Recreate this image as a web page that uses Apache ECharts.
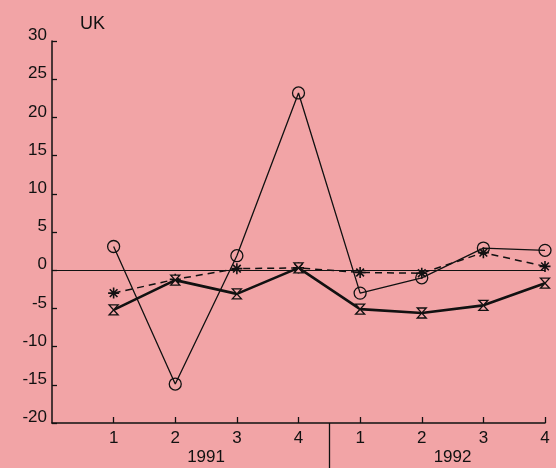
<!DOCTYPE html>
<html>
<head>
<meta charset="utf-8">
<script src="https://cdn.jsdelivr.net/npm/echarts@6/dist/echarts.min.js"></script>
<style>
  html, body { margin: 0; padding: 0; background: #f2a4a6; }
  #main { width: 556px; height: 468px; }
</style>
</head>
<body>
<div id="main"></div>
<script>
var quarters = ['1', '2', '3', '4', '1', '2', '3', '4'];
var years = ['1991', '1992'];
var yTicks = [-20, -15, -10, -5, 0, 5, 10, 15, 20, 25, 30];

// three UK series, quarterly 1991-1992
var circleSeries = [3.1, -14.9, 1.9, 23.2, -3.0, -1.0, 2.9, 2.6];
var starSeries = [-3.0, -1.2, 0.2, 0.3, -0.3, -0.4, 2.3, 0.5];
var hourglassSeries = [-5.2, -1.3, -3.1, 0.3, -5.1, -5.6, -4.6, -1.7];

var ink = '#111';
var font = 'Liberation Sans';

function toPoints(arr) {
  return arr.map(function (v, i) { return [i + 1, v]; });
}

var qPos = quarters.map(function (q, i) { return i + 1; });
var yearPos = years.map(function (y, i) { return i * 4 + 2.5; });

var chart = echarts.init(document.getElementById('main'), null, { renderer: 'canvas' });

var option = {
  backgroundColor: '#f2a4a6',
  animation: false,
  title: {
    text: 'UK',
    left: 75,
    top: 10,
    textStyle: { fontFamily: font, fontSize: 18, fontWeight: 'normal', color: ink }
  },
  grid: { left: 52, right: 11, top: 41, bottom: 45 },
  xAxis: [
    {
      type: 'value',
      min: 0,
      max: 8,
      interval: 1,
      axisLine: { onZero: false, lineStyle: { color: ink, width: 1.5 } },
      axisTick: { customValues: qPos, inside: true, length: 6, lineStyle: { color: ink, width: 1.3 } },
      axisLabel: {
        customValues: qPos,
        formatter: function (v) { return quarters[Math.round(v) - 1] || ''; },
        margin: 7,
        fontFamily: font, fontSize: 17, color: ink
      },
      splitLine: { show: false }
    },
    {
      type: 'value',
      min: 0,
      max: 8,
      position: 'bottom',
      axisLine: { show: false, onZero: false },
      axisTick: { customValues: [4.5], length: 46, lineStyle: { color: ink, width: 1.3 } },
      axisLabel: {
        customValues: yearPos,
        formatter: function (v) { return years[Math.round((v - 2.5) / 4)]; },
        margin: 26,
        fontFamily: font, fontSize: 17, color: ink
      },
      splitLine: { show: false }
    }
  ],
  yAxis: {
    type: 'value',
    min: -20,
    max: 30,
    interval: 5,
    axisLine: { show: true, onZero: false, lineStyle: { color: ink, width: 1.5 } },
    axisTick: { show: true, inside: true, length: 5, lineStyle: { color: ink, width: 1.3 } },
    axisLabel: {
      customValues: yTicks,
      margin: 5,
      verticalAlign: 'bottom',
      lineHeight: 11,
      fontFamily: font, fontSize: 17, color: ink
    },
    splitLine: { show: false }
  },
  series: [
    {
      name: 'circle',
      type: 'line',
      data: toPoints(circleSeries),
      symbol: 'circle',
      symbolSize: 12,
      showAllSymbol: true,
      lineStyle: { color: ink, width: 1.3 },
      itemStyle: { color: 'rgba(0,0,0,0)', borderColor: ink, borderWidth: 1.3 },
      markLine: {
        silent: true,
        symbol: 'none',
        label: { show: false },
        lineStyle: { color: ink, width: 1.2, type: 'solid' },
        data: [{ yAxis: 0 }]
      },
      z: 3
    },
    {
      name: 'star',
      type: 'line',
      data: toPoints(starSeries),
      symbol: 'path://M5,0L5,10M0,5L10,5M1.5,1.5L8.5,8.5M8.5,1.5L1.5,8.5',
      symbolSize: 11,
      lineStyle: { color: ink, width: 1.5, type: [7, 5] },
      itemStyle: { color: 'rgba(0,0,0,0)', borderColor: ink, borderWidth: 1.6 },
      z: 4
    },
    {
      name: 'hourglass',
      type: 'line',
      data: toPoints(hourglassSeries),
      symbol: 'path://M0,0L10,0L0,10L10,10Z',
      symbolSize: [9, 10],
      lineStyle: { color: ink, width: 2.6 },
      itemStyle: { color: '#f2a4a6', borderColor: ink, borderWidth: 1.3 },
      z: 5
    }
  ]
};

chart.setOption(option);
</script>
</body>
</html>
